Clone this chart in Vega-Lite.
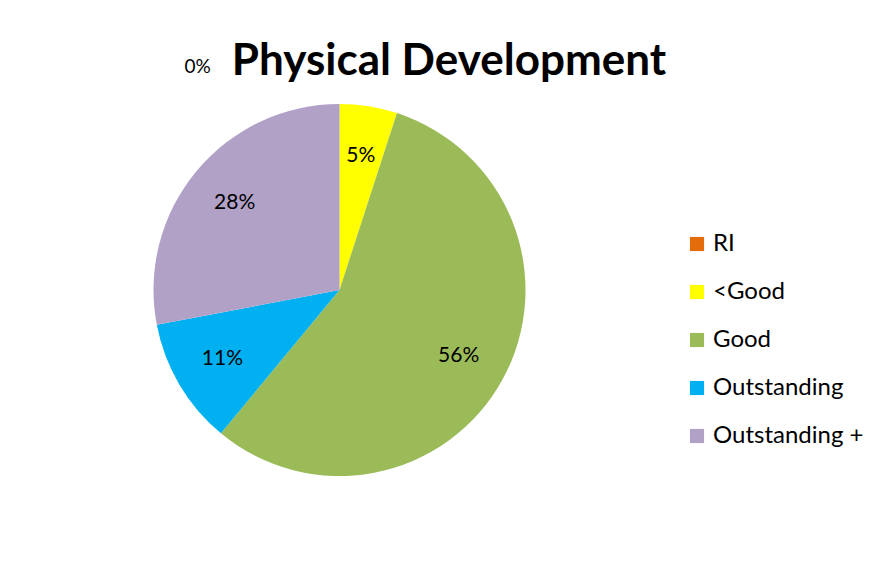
{
  "$schema": "https://vega.github.io/schema/vega-lite/v6.json",
  "width": 883,
  "height": 579,
  "autosize": {"type": "fit", "contains": "padding"},
  "padding": {"left": 20, "top": 40, "right": 19, "bottom": 56},
  "background": "white",
  "title": {
    "text": "Physical Development",
    "font": "Lato",
    "fontSize": 44,
    "fontWeight": "bold",
    "color": "#000000",
    "anchor": "middle",
    "frame": "bounds",
    "offset": -27,
    "dx": 7
  },
  "data": {
    "values": [
      {"rating": "RI", "percent": 0, "n": 1},
      {"rating": "<Good", "percent": 5, "n": 2},
      {"rating": "Good", "percent": 56, "n": 3},
      {"rating": "Outstanding", "percent": 11, "n": 4},
      {"rating": "Outstanding +", "percent": 28, "n": 5}
    ]
  },
  "encoding": {
    "theta": {"field": "percent", "type": "quantitative", "stack": true},
    "order": {"field": "n", "type": "quantitative"},
    "color": {
      "field": "rating",
      "type": "nominal",
      "scale": {
        "domain": ["RI", "<Good", "Good", "Outstanding", "Outstanding +"],
        "range": ["#E46C0A", "#FFFF00", "#9BBB59", "#00B0F0", "#B2A1C7"]
      },
      "legend": {
        "title": " ",
        "titleFontSize": 80,
        "titlePadding": 20,
        "orient": "right",
        "symbolType": "square",
        "symbolSize": 200,
        "symbolStrokeWidth": 0,
        "labelFont": "Lato",
        "labelFontSize": 24,
        "labelColor": "#000000",
        "rowPadding": 24,
        "offset": 26
      }
    }
  },
  "layer": [
    {"mark": {"type": "arc", "outerRadius": 186, "stroke": null}},
    {
      "transform": [{"filter": "datum.percent > 0"}],
      "mark": {"type": "text", "radius": 136, "font": "Lato", "fontSize": 21},
      "encoding": {
        "text": {"field": "label", "type": "nominal"},
        "color": {"value": "#000000"}
      }
    },
    {
      "transform": [{"filter": "datum.percent == 0"}],
      "mark": {"type": "text", "radius": 200, "dx": -142, "dy": -23, "font": "Lato", "fontSize": 19},
      "encoding": {
        "text": {"field": "label", "type": "nominal"},
        "color": {"value": "#000000"}
      }
    }
  ],
  "transform": [{"calculate": "datum.percent + '%'", "as": "label"}],
  "config": {
    "view": {"stroke": null},
    "legend": {"layout": {"right": {"anchor": "middle"}}}
  }
}
